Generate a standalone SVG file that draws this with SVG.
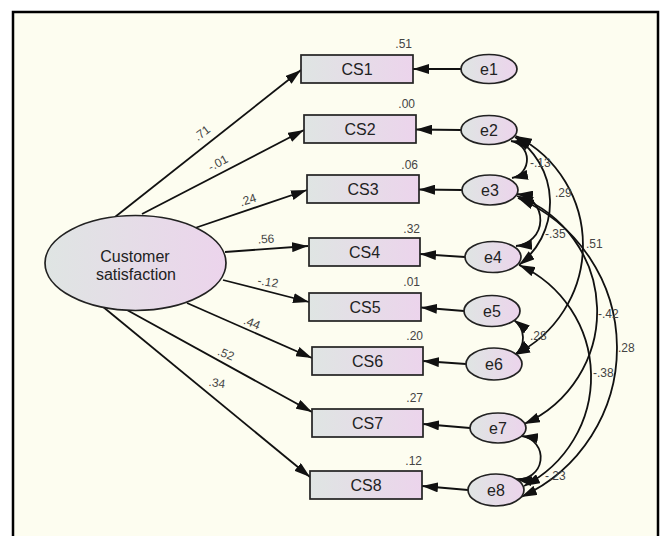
<svg xmlns="http://www.w3.org/2000/svg" width="663" height="536" viewBox="0 0 663 536">
<defs>
<linearGradient id="g" x1="0" x2="1" y1="0" y2="0"><stop offset="0" stop-color="#dfe5e3"/><stop offset="1" stop-color="#ecd4ec"/></linearGradient>
<marker id="ah" viewBox="0 0 16 10" refX="16" refY="5" markerWidth="16" markerHeight="10" markerUnits="userSpaceOnUse" orient="auto-start-reverse"><path d="M0,0 L16,5 L0,10 z" fill="#111"/></marker>
</defs>
<style>
.bg{fill:#fdfdf0}
.frame{fill:none;stroke:#000;stroke-width:2.5}
.node{fill:url(#g);stroke:#222;stroke-width:1.7}
.lbl{font-family:"Liberation Sans",Arial,sans-serif;font-size:16px;fill:#222;text-anchor:middle}
.num{font-family:"Liberation Sans",Arial,sans-serif;font-size:12px;fill:#444}
.end{text-anchor:end}
.mid{text-anchor:middle}
.edge{fill:none;stroke:#111;stroke-width:1.8;marker-end:url(#ah)}
.cov{fill:none;stroke:#111;stroke-width:1.8;marker-start:url(#ah);marker-end:url(#ah)}
</style>
<rect width="663" height="536" fill="#fff"/>
<rect class="bg" x="13" y="12" width="645" height="530"/>
<path class="frame" d="M13,540 V12 H658 V540"/>

<g id="connectors">
<path class="edge" d="M115,217 L301,70"/>
<path class="edge" d="M142,214 L304,130"/>
<path class="edge" d="M195,228 L307,190"/>
<path class="edge" d="M225,252 L308,246"/>
<path class="edge" d="M223,280 L309,302"/>
<path class="edge" d="M187,303 L312,358"/>
<path class="edge" d="M127,310 L312,412"/>
<path class="edge" d="M102,306 L310,477"/>
<path class="edge" d="M461,69 L413,69"/>
<path class="edge" d="M461,130 L416,129.5"/>
<path class="edge" d="M462,190 L419,189.5"/>
<path class="edge" d="M465,257 L420,254"/>
<path class="edge" d="M464,311 L421,307.5"/>
<path class="edge" d="M466,364 L423,361"/>
<path class="edge" d="M470,428 L423,424"/>
<path class="edge" d="M468,490 L422,486"/>
<path class="cov" d="M511,141 A18.8,18.8 0 0 1 512,178"/>
<path class="cov" d="M515,137 A78.6,78.6 0 0 1 519,265"/>
<path class="cov" d="M516,136 A122.2,122.2 0 0 1 514,355"/>
<path class="cov" d="M517,194 A26.1,26.1 0 0 1 516,246"/>
<path class="cov" d="M517,196 A123.2,123.2 0 0 1 524,424"/>
<path class="cov" d="M518,198 A163.4,163.4 0 0 1 521,497"/>
<path class="cov" d="M519,265 A122.6,122.6 0 0 1 524,486"/>
<path class="cov" d="M514,320 A22.3,22.3 0 0 1 515,355"/>
<path class="cov" d="M522,436 A21.7,21.7 0 0 1 516,479"/>
<text class="num mid" transform="rotate(-37 202 133)" x="202" y="137">.71</text>
<text class="num mid" transform="rotate(-28 218 163)" x="218" y="167">-.01</text>
<text class="num mid" transform="rotate(-18 248 200)" x="248" y="204">.24</text>
<text class="num mid" transform="rotate(-3 266 239)" x="266" y="243">.56</text>
<text class="num mid" transform="rotate(10 268 282)" x="268" y="286">-.12</text>
<text class="num mid" transform="rotate(22 252 323)" x="252" y="327">.44</text>
<text class="num mid" transform="rotate(22 226 354)" x="226" y="358">.52</text>
<text class="num mid" transform="rotate(8 217 383)" x="217" y="387">.34</text>
<text class="num" x="530" y="167">-.13</text>
<text class="num" x="555" y="197">.29</text>
<text class="num" x="545" y="238">-.35</text>
<text class="num" x="586" y="248">.51</text>
<text class="num" x="598" y="318">-.42</text>
<text class="num" x="618" y="352">.28</text>
<text class="num" x="593" y="377">-.38</text>
<text class="num" x="530" y="340">.28</text>
<text class="num" x="545" y="480">-.23</text>
</g>

<g id="customer_satisfaction">
<ellipse class="node" cx="135.5" cy="263" rx="90.5" ry="47.5"/>
<text class="lbl" x="135" y="262">Customer</text>
<text class="lbl" x="136" y="280">satisfaction</text>
</g>

<g id="CS1"><rect class="node" x="301" y="55" width="112" height="28"/><text class="lbl" x="357" y="75">CS1</text><text class="num end" x="412" y="48">.51</text></g>
<g id="CS2"><rect class="node" x="304" y="115" width="112" height="28"/><text class="lbl" x="360" y="135">CS2</text><text class="num end" x="415" y="108">.00</text></g>
<g id="CS3"><rect class="node" x="307" y="175" width="112" height="28"/><text class="lbl" x="363" y="195">CS3</text><text class="num end" x="418" y="169">.06</text></g>
<g id="CS4"><rect class="node" x="309" y="238" width="111" height="28"/><text class="lbl" x="364.5" y="258">CS4</text><text class="num end" x="420" y="233">.32</text></g>
<g id="CS5"><rect class="node" x="309" y="293" width="112" height="28"/><text class="lbl" x="365" y="313">CS5</text><text class="num end" x="420" y="286">.01</text></g>
<g id="CS6"><rect class="node" x="312" y="347" width="111" height="28"/><text class="lbl" x="367.5" y="367">CS6</text><text class="num end" x="423" y="340">.20</text></g>
<g id="CS7"><rect class="node" x="312" y="409" width="111" height="28"/><text class="lbl" x="367.5" y="429">CS7</text><text class="num end" x="423" y="402">.27</text></g>
<g id="CS8"><rect class="node" x="310" y="471" width="112" height="28"/><text class="lbl" x="366" y="491">CS8</text><text class="num end" x="422" y="465">.12</text></g>

<g id="e1"><ellipse class="node" cx="489" cy="69" rx="28" ry="14.5"/><text class="lbl" x="489" y="75">e1</text></g>
<g id="e2"><ellipse class="node" cx="489" cy="130" rx="28" ry="14.5"/><text class="lbl" x="489" y="136">e2</text></g>
<g id="e3"><ellipse class="node" cx="490" cy="190" rx="28" ry="15"/><text class="lbl" x="490" y="196">e3</text></g>
<g id="e4"><ellipse class="node" cx="493" cy="257" rx="28" ry="15.5"/><text class="lbl" x="493" y="263">e4</text></g>
<g id="e5"><ellipse class="node" cx="492" cy="311" rx="28" ry="15.5"/><text class="lbl" x="492" y="317">e5</text></g>
<g id="e6"><ellipse class="node" cx="494" cy="364" rx="28" ry="16"/><text class="lbl" x="494" y="370">e6</text></g>
<g id="e7"><ellipse class="node" cx="498" cy="428" rx="28" ry="15"/><text class="lbl" x="498" y="434">e7</text></g>
<g id="e8"><ellipse class="node" cx="496" cy="490" rx="28" ry="16"/><text class="lbl" x="496" y="496">e8</text></g>
</svg>
